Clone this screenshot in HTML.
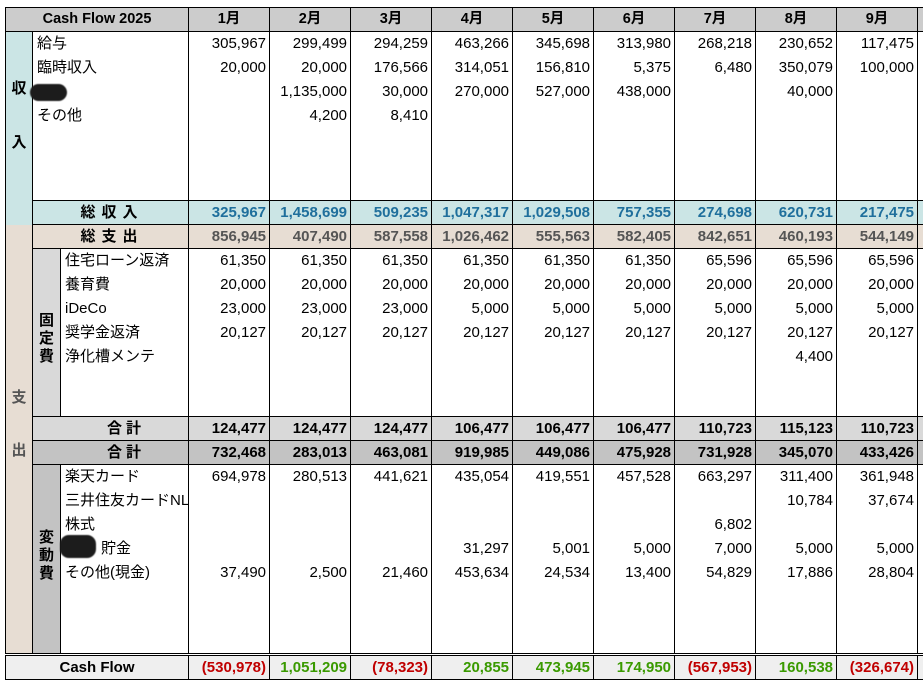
<!DOCTYPE html>
<html><head><meta charset="utf-8">
<style>
body{margin:0;background:#fff;width:923px;height:684px;overflow:hidden;position:relative;font-family:"Liberation Sans","Noto Sans CJK JP",sans-serif;font-size:15px;color:#000}
table{position:absolute;left:5px;top:7px;width:918px;border-collapse:collapse;table-layout:fixed}
td{padding:0 3px;height:24px;line-height:24px;white-space:nowrap;overflow:hidden;border-left:1px solid #000;border-right:1px solid #000;text-align:right}
.h td,.ti td,.te td,.tf td,.tv td,tr.s23 td{height:23px;line-height:23px}
tr.s20 td{height:20px;line-height:20px}
.h td{background:#cccccc;font-weight:bold;text-align:center;border-top:1px solid #000;border-bottom:1px solid #000;font-size:14.5px}
.l{text-align:left;padding-left:4px}
td.inc{background:#cbe5e5;vertical-align:top;text-align:center;font-weight:bold;padding:0}
td.exp{background:#e7ddd3;vertical-align:top;text-align:center;font-weight:bold;padding:0}
td.fx{background:#d9d9d9;vertical-align:top;text-align:center;font-weight:bold;padding:0}
td.vr{background:#c3c3c3;vertical-align:top;text-align:center;font-weight:bold;padding:0}
.ti td{background:#cbe5e5;color:#1f6f9c;font-weight:bold;border-top:1px solid #000;border-bottom:1px solid #000}
.te td{background:#e7ddd3;color:#555;font-weight:bold;border-bottom:1px solid #000}
.tf td{background:#d9d9d9;font-weight:bold;border-top:1px solid #000;border-bottom:1px solid #000}
.tv td{background:#c3c3c3;font-weight:bold;border-bottom:1px solid #000}
.cf td{background:#efefef;font-weight:bold;border-top:3px double #000;border-bottom:1px solid #000;height:23px;line-height:23px}
.c{text-align:center!important;color:#000!important}
.sp{letter-spacing:6px}
.sp2{letter-spacing:4px}
.r{color:#c00000}.g{color:#3a9a00}
.blob{position:absolute;background:#1c1c1c;border-radius:9px;filter:blur(0.6px)}
</style></head><body>
<table>
<colgroup><col style="width:27px"><col style="width:28px"><col style="width:128px"><col style="width:81px"><col style="width:81px"><col style="width:81px"><col style="width:81px"><col style="width:81px"><col style="width:81px"><col style="width:81px"><col style="width:81px"><col style="width:81px"><col style="width:6px"></colgroup>
<tr class="h"><td colspan="3">Cash Flow 2025</td><td>1月</td><td>2月</td><td>3月</td><td>4月</td><td>5月</td><td>6月</td><td>7月</td><td>8月</td><td>9月</td><td></td></tr>
<tr><td class="inc" rowspan="8"><div style="padding-top:30px;line-height:54px">収<br>入</div></td><td class="l" colspan="2">給与</td><td>305,967</td><td>299,499</td><td>294,259</td><td>463,266</td><td>345,698</td><td>313,980</td><td>268,218</td><td>230,652</td><td>117,475</td><td></td></tr>
<tr><td class="l" colspan="2">臨時収入</td><td>20,000</td><td>20,000</td><td>176,566</td><td>314,051</td><td>156,810</td><td>5,375</td><td>6,480</td><td>350,079</td><td>100,000</td><td></td></tr>
<tr><td class="l" colspan="2"></td><td></td><td>1,135,000</td><td>30,000</td><td>270,000</td><td>527,000</td><td>438,000</td><td></td><td>40,000</td><td></td><td></td></tr>
<tr><td class="l" colspan="2">その他</td><td></td><td>4,200</td><td>8,410</td><td></td><td></td><td></td><td></td><td></td><td></td><td></td></tr>
<tr><td colspan="2"></td><td></td><td></td><td></td><td></td><td></td><td></td><td></td><td></td><td></td><td></td></tr>
<tr><td colspan="2"></td><td></td><td></td><td></td><td></td><td></td><td></td><td></td><td></td><td></td><td></td></tr>
<tr><td colspan="2"></td><td></td><td></td><td></td><td></td><td></td><td></td><td></td><td></td><td></td><td></td></tr>
<tr class="ti"><td colspan="2" class="c sp" style="padding-left:6px">総収入</td><td>325,967</td><td>1,458,699</td><td>509,235</td><td>1,047,317</td><td>1,029,508</td><td>757,355</td><td>274,698</td><td>620,731</td><td>217,475</td><td></td></tr>
<tr class="te"><td class="exp" rowspan="18"><div style="padding-top:146px;line-height:53px">支<br>出</div></td><td colspan="2" class="c sp" style="padding-left:6px">総支出</td><td>856,945</td><td>407,490</td><td>587,558</td><td>1,026,462</td><td>555,563</td><td>582,405</td><td>842,651</td><td>460,193</td><td>544,149</td><td></td></tr>
<tr><td class="fx" rowspan="7"><div style="padding-top:63px;line-height:18px">固<br>定<br>費</div></td><td class="l">住宅ローン返済</td><td>61,350</td><td>61,350</td><td>61,350</td><td>61,350</td><td>61,350</td><td>61,350</td><td>65,596</td><td>65,596</td><td>65,596</td><td></td></tr>
<tr><td class="l">養育費</td><td>20,000</td><td>20,000</td><td>20,000</td><td>20,000</td><td>20,000</td><td>20,000</td><td>20,000</td><td>20,000</td><td>20,000</td><td></td></tr>
<tr><td class="l">iDeCo</td><td>23,000</td><td>23,000</td><td>23,000</td><td>5,000</td><td>5,000</td><td>5,000</td><td>5,000</td><td>5,000</td><td>5,000</td><td></td></tr>
<tr><td class="l">奨学金返済</td><td>20,127</td><td>20,127</td><td>20,127</td><td>20,127</td><td>20,127</td><td>20,127</td><td>20,127</td><td>20,127</td><td>20,127</td><td></td></tr>
<tr><td class="l">浄化槽メンテ</td><td></td><td></td><td></td><td></td><td></td><td></td><td></td><td>4,400</td><td></td><td></td></tr>
<tr><td></td><td></td><td></td><td></td><td></td><td></td><td></td><td></td><td></td><td></td><td></td></tr>
<tr class="s23"><td></td><td></td><td></td><td></td><td></td><td></td><td></td><td></td><td></td><td></td><td></td></tr>
<tr class="tf"><td colspan="2" class="c sp2" style="padding-left:34px">合計</td><td>124,477</td><td>124,477</td><td>124,477</td><td>106,477</td><td>106,477</td><td>106,477</td><td>110,723</td><td>115,123</td><td>110,723</td><td></td></tr>
<tr class="tv"><td colspan="2" class="c sp2" style="padding-left:34px">合計</td><td>732,468</td><td>283,013</td><td>463,081</td><td>919,985</td><td>449,086</td><td>475,928</td><td>731,928</td><td>345,070</td><td>433,426</td><td></td></tr>
<tr><td class="vr" rowspan="8"><div style="padding-top:64px;line-height:18px">変<br>動<br>費</div></td><td class="l">楽天カード</td><td>694,978</td><td>280,513</td><td>441,621</td><td>435,054</td><td>419,551</td><td>457,528</td><td>663,297</td><td>311,400</td><td>361,948</td><td></td></tr>
<tr><td class="l">三井住友カードNL</td><td></td><td></td><td></td><td></td><td></td><td></td><td></td><td>10,784</td><td>37,674</td><td></td></tr>
<tr><td class="l">株式</td><td></td><td></td><td></td><td></td><td></td><td></td><td>6,802</td><td></td><td></td><td></td></tr>
<tr><td class="l" style="padding-left:40px">貯金</td><td></td><td></td><td></td><td>31,297</td><td>5,001</td><td>5,000</td><td>7,000</td><td>5,000</td><td>5,000</td><td></td></tr>
<tr><td class="l">その他(現金)</td><td>37,490</td><td>2,500</td><td>21,460</td><td>453,634</td><td>24,534</td><td>13,400</td><td>54,829</td><td>17,886</td><td>28,804</td><td></td></tr>
<tr><td></td><td></td><td></td><td></td><td></td><td></td><td></td><td></td><td></td><td></td><td></td></tr>
<tr><td></td><td></td><td></td><td></td><td></td><td></td><td></td><td></td><td></td><td></td><td></td></tr>
<tr class="s20"><td></td><td></td><td></td><td></td><td></td><td></td><td></td><td></td><td></td><td></td><td></td></tr>
<tr class="cf"><td colspan="3" class="c">Cash Flow</td><td class="r">(530,978)</td><td class="g">1,051,209</td><td class="r">(78,323)</td><td class="g">20,855</td><td class="g">473,945</td><td class="g">174,950</td><td class="r">(567,953)</td><td class="g">160,538</td><td class="r">(326,674)</td><td></td></tr>
</table>
<div class="blob" style="left:30px;top:84px;width:37px;height:17px"></div>
<div class="blob" style="left:60px;top:535px;width:36px;height:23px"></div>
</body></html>
